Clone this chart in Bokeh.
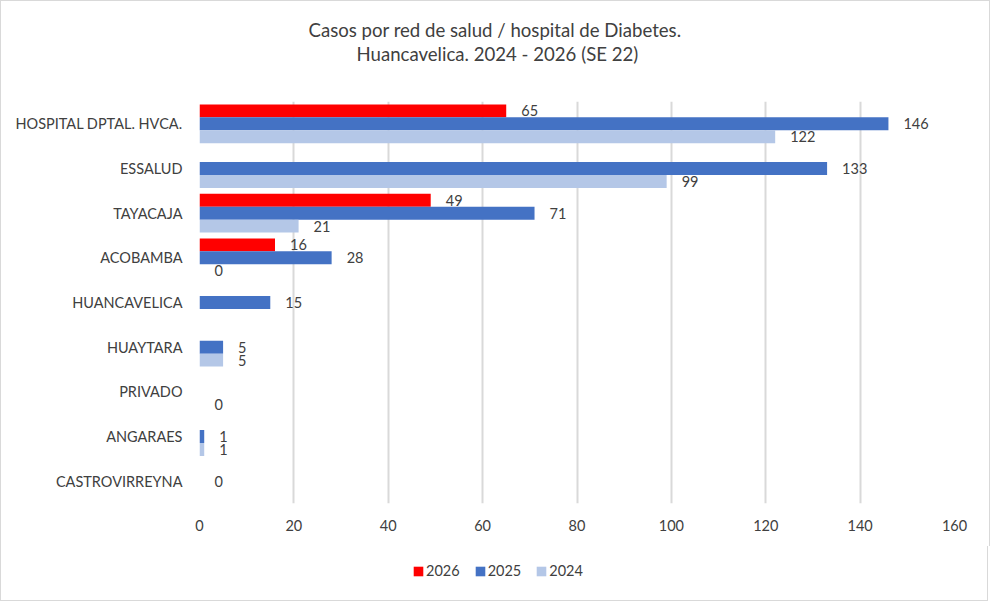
from bokeh.plotting import figure
from bokeh.layouts import column
from bokeh.models import (ColumnDataSource, FactorRange, Range1d, Legend, LegendItem,
                          Title, SingleIntervalTicker)
from bokeh.transform import dodge
from bokeh.core.properties import value
from bokeh.embed import file_html
from bokeh.resources import INLINE

# ---------------- data ----------------
categories = ["HOSPITAL DPTAL. HVCA.", "ESSALUD", "TAYACAJA", "ACOBAMBA",
              "HUANCAVELICA", "HUAYTARA", "PRIVADO", "ANGARAES", "CASTROVIRREYNA"]
series_names = ["2026", "2025", "2024"]
v2026 = [65, None, 49, 16, None, None, None, None, None]
v2025 = [146, 133, 71, 28, 15, 5, None, 1, 0]
v2024 = [122, 99, 21, 0, None, 5, 0, 1, None]
title_line1 = "Casos por red de salud / hospital de Diabetes."
title_line2 = "Huancavelica. 2024 - 2026 (SE 22)"

# ---------------- style ----------------
FONT = "Lato"
TXT = "#404040"
BORDER = "1px solid #d9d9d9"
colors = ["#FF0000", "#4472C4", "#B4C7E7"]
offsets = [0.29, 0.0, -0.29]
bar_h = 0.29
LEFT, FW, RIGHT = 198, 753, 37
TOTAL_W = LEFT + FW + RIGHT

p = figure(frame_width=FW, frame_height=401,
           y_range=FactorRange(factors=list(reversed(categories))),
           x_range=Range1d(0, 160),
           output_backend="svg", toolbar_location=None,
           min_border_left=LEFT, min_border_right=RIGHT,
           min_border_top=100, min_border_bottom=44)
p.styles = {"border-top": BORDER, "border-left": BORDER, "border-right": BORDER}
p.outline_line_color = None
p.background_fill_color = "white"
p.border_fill_color = "white"

for name, vals, col, off in zip(series_names, [v2026, v2025, v2024], colors, offsets):
    cats = [c for c, v in zip(categories, vals) if v is not None]
    vs = [v for v in vals if v is not None]
    src = ColumnDataSource(dict(cat=cats, val=vs, lab=[str(v) for v in vs]))
    p.hbar(y=dodge("cat", off, range=p.y_range), left=0, right="val",
           height=bar_h, fill_color=col, line_color=None, source=src)
    p.text(x="val", y=dodge("cat", off, range=p.y_range), text="lab", source=src,
           x_offset=15, text_align="left", text_baseline="middle",
           text_font=value(FONT), text_font_size="14.5px", text_color=TXT)

# axes
p.xaxis.ticker = SingleIntervalTicker(interval=20)
p.xaxis.axis_line_color = None
p.xaxis.major_tick_line_color = None
p.xaxis.minor_tick_line_color = None
p.xaxis.major_label_standoff = 10
p.xaxis.major_label_text_font = FONT
p.xaxis.major_label_text_font_size = "14.5px"
p.xaxis.major_label_text_color = TXT

p.yaxis.axis_line_color = None
p.yaxis.major_tick_line_color = None
p.yaxis.minor_tick_line_color = None
p.yaxis.major_label_standoff = 11
p.yaxis.major_label_text_font = FONT
p.yaxis.major_label_text_font_size = "14.5px"
p.yaxis.major_label_text_color = TXT

p.xgrid.grid_line_color = "#d9d9d9"
p.xgrid.grid_line_width = 2
p.ygrid.grid_line_color = None

# titles (stacked outward from the frame: spacer, line 2, line 1)
spacer = Title(text=" ", text_font_size="1px", standoff=34)
t2 = Title(text=title_line2, align="left", offset=157, text_font=FONT,
           text_font_size="18.6px", text_font_style="normal", text_color=TXT, standoff=0)
t1 = Title(text=title_line1, align="left", offset=109, text_font=FONT,
           text_font_size="18.6px", text_font_style="normal", text_color=TXT, standoff=0)
p.add_layout(spacer, "above")
p.add_layout(t2, "above")
p.add_layout(t1, "above")

# legend strip (separate figure so it is never clipped)
q = figure(width=TOTAL_W, height=55, x_range=Range1d(0, 1), y_range=Range1d(0, 1),
           output_backend="svg", toolbar_location=None,
           x_axis_location=None, y_axis_location=None, min_border=0)
q.styles = {"border-bottom": BORDER, "border-left": BORDER, "border-right": BORDER}
q.outline_line_color = None
q.grid.visible = False
items = []
for name, col in zip(series_names, colors):
    # zero-width swatch renderer: only supplies the legend colour
    lr = q.hbar(y=[0.5], left=[0], right=[0], height=0, fill_color=col, line_color=None)
    items.append(LegendItem(label=name, renderers=[lr]))
legend = Legend(items=items, orientation="horizontal", location=(213, 22),
                glyph_width=12, glyph_height=12, label_standoff=2, spacing=14,
                border_line_color=None, background_fill_alpha=0,
                label_text_font=FONT, label_text_font_size="14.5px",
                label_text_color=TXT, padding=0, margin=0)
q.add_layout(legend, "center")

layout = column(p, q, spacing=0)
open("out.html", "w").write(file_html(layout, INLINE))
